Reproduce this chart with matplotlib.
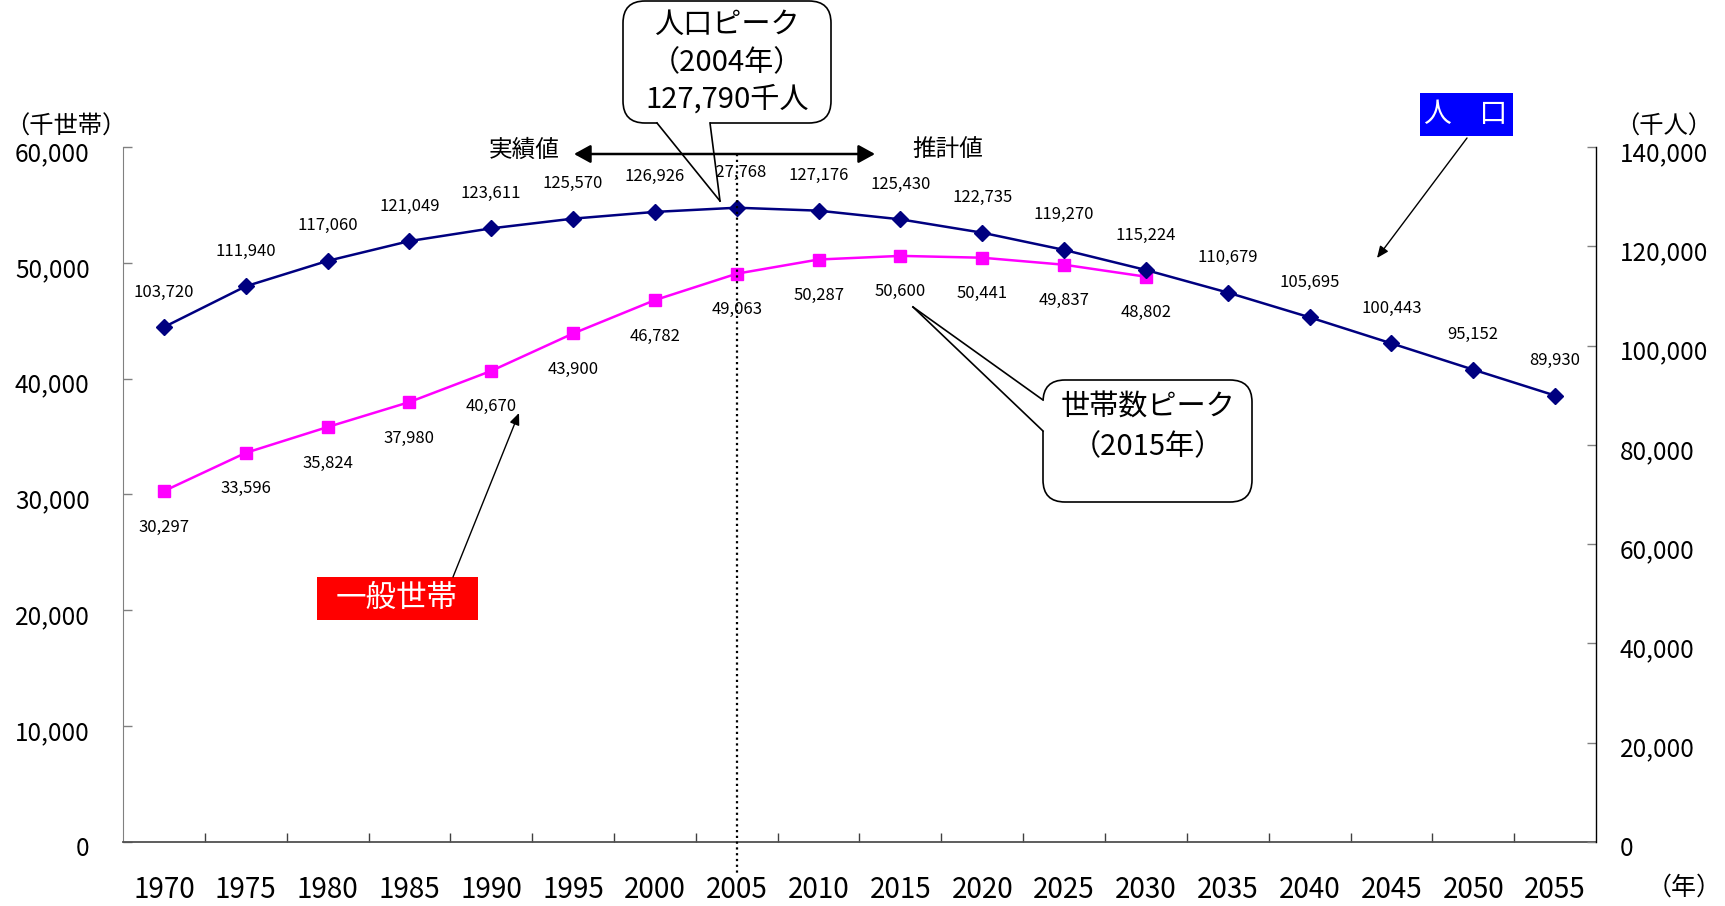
import matplotlib
matplotlib.use("Agg")
import matplotlib.pyplot as plt
from matplotlib.patches import FancyBboxPatch, Polygon, FancyArrowPatch, Rectangle
from matplotlib.lines import Line2D
from matplotlib.transforms import Affine2D, ScaledTranslation, blended_transform_factory
from matplotlib.ticker import FuncFormatter

plt.rcParams['font.family'] = ['Noto Sans CJK JP', 'DejaVu Sans']

# ---- data -------------------------------------------------------------
years = [1970, 1975, 1980, 1985, 1990, 1995, 2000, 2005, 2010,
         2015, 2020, 2025, 2030, 2035, 2040, 2045, 2050, 2055]
population = [103720, 111940, 117060, 121049, 123611, 125570, 126926, 127768,
              127176, 125430, 122735, 119270, 115224, 110679, 105695, 100443,
              95152, 89930]                       # 千人
household_years = years[:13]
households = [30297, 33596, 35824, 37980, 40670, 43900, 46782, 49063,
              50287, 50600, 50441, 49837, 48802]  # 千世帯
peak_year = 2005

left_ticks = list(range(0, 60001, 10000))
right_ticks = list(range(0, 140001, 20000))

NAVY = '#000080'
MAGENTA = '#FF00FF'

# ---- figure -----------------------------------------------------------
W, H = 1725, 906
fig = plt.figure(figsize=(W / 100, H / 100), dpi=100)
fig.patch.set_facecolor('white')

# pixel transform with the origin at the top-left corner
px = Affine2D().scale(1 / W, -1 / H).translate(0, 1) + fig.transFigure

L, R, T, B = 123, 1596, 147, 842
ax = fig.add_axes([L / W, 1 - B / H, (R - L) / W, (B - T) / H])
ax2 = ax.twinx()

idx = list(range(len(years)))
hidx = [years.index(y) for y in household_years]

ax.plot(hidx, households, color=MAGENTA, lw=1.8, marker='s', ms=9,
        mec=MAGENTA, mfc=MAGENTA, clip_on=False, zorder=3)
ax2.plot(idx, population, color=NAVY, lw=1.8, marker='D', ms=8.5,
         mec=NAVY, mfc=NAVY, clip_on=False, zorder=3)

for i, v in zip(idx, population):
    ax2.annotate(f"{v:,}", (i, v), xytext=(0, 35), textcoords='offset pixels',
                 ha='center', va='center', fontsize=12, color='black')
for i, v in zip(hidx, households):
    ax.annotate(f"{v:,}", (i, v), xytext=(0, -36), textcoords='offset pixels',
                ha='center', va='center', fontsize=12, color='black')

# ---- axes -------------------------------------------------------------
fmt = FuncFormatter(lambda v, p: f"{int(v):,}")
ax.set_xlim(-0.5, len(years) - 0.5)
ax.set_ylim(0, 60000)
ax2.set_ylim(0, 140000)

ax.set_xticks(idx)
ax.set_xticklabels([str(y) for y in years])
ax.set_xticks([k - 0.5 for k in range(1, len(years))], minor=True)
ax.tick_params(axis='x', which='major', length=0, pad=24, labelsize=20)
ax.tick_params(axis='x', which='minor', direction='in', length=6.5,
               width=1, color='#404040')

ax.set_yticks(left_ticks)
ax.yaxis.set_major_formatter(fmt)
ax.tick_params(axis='y', direction='in', length=6.5, width=1,
               color='#808080', pad=24, labelsize=17.5)
ax2.set_yticks(right_ticks)
ax2.yaxis.set_major_formatter(fmt)
ax2.tick_params(axis='y', direction='in', length=6.5, width=1,
                color='#808080', pad=17, labelsize=17.5)

# value labels sit a few pixels below their tick
shift = ScaledTranslation(0, -4 / 100, fig.dpi_scale_trans)
for lab in ax.get_yticklabels() + ax2.get_yticklabels():
    lab.set_transform(lab.get_transform() + shift)

for s in ('top', 'right'):
    ax.spines[s].set_visible(False)
ax.spines['left'].set_color('#808080')
ax.spines['bottom'].set_color('#505050')
ax.spines['bottom'].set_linewidth(1.3)
for s in ('top', 'left', 'bottom'):
    ax2.spines[s].set_visible(False)
ax2.spines['right'].set_color('black')
ax2.spines['right'].set_linewidth(1.0)

# unit labels
fig.text(66 / W, 1 - 127 / H, '（千世帯）', ha='center', va='center', fontsize=17.5)
fig.text(1664 / W, 1 - 127 / H, '（千人）', ha='center', va='center', fontsize=17.5)
fig.text(1684 / W, 1 - 888 / H, '（年）', ha='center', va='center', fontsize=18)


# ---- callouts ---------------------------------------------------------
def callout(x0, y0, x1, y1, base_a, base_b, tip, lines, line_ys, size):
    box = FancyBboxPatch((x0, y0), x1 - x0, y1 - y0,
                         boxstyle='round,pad=0,rounding_size=22',
                         transform=px, facecolor='white', edgecolor='black',
                         lw=1.2, zorder=5)
    fig.patches.append(box)
    # white wedge hides the border where the pointer attaches
    ax_, ay_ = base_a
    bx_, by_ = base_b
    if ay_ == by_:        # pointer leaves the bottom edge
        inner = [(ax_ + 1, ay_ - 4), (bx_ - 1, by_ - 4)]
    else:                 # pointer leaves the left edge
        inner = [(ax_ + 4, ay_ + 1), (bx_ + 4, by_ - 1)]
    wedge = Polygon([inner[0], (ax_ + 0.5 * (ax_ != bx_), ay_ + 0.5 * (ay_ != by_)),
                     tip, base_b, inner[1]],
                    closed=True, transform=px, facecolor='white',
                    edgecolor='none', zorder=6)
    fig.patches.append(wedge)
    for p in (base_a, base_b):
        fig.lines.append(Line2D([p[0], tip[0]], [p[1], tip[1]], transform=px,
                                color='black', lw=1.2, zorder=7))
    cx = (x0 + x1) / 2
    for txt, y in zip(lines, line_ys):
        fig.text(cx / W, 1 - y / H, txt, ha='center', va='center',
                 fontsize=size, zorder=8)


callout(623, 1, 831, 123, (657, 123), (710, 123), (720, 201),
        ['人口ピーク', '（2004年）', '127,790千人'], [25, 63, 100], 21)
callout(1043, 380, 1252, 502, (1043, 400), (1043, 431), (913, 307),
        ['世帯数ピーク', '（2015年）'], [408, 447], 21)

# ---- actual / projected divider --------------------------------------
dot_tf = blended_transform_factory(ax.transData, fig.transFigure)
pk = years.index(peak_year)
fig.lines.append(Line2D([pk, pk], [1 - 154 / H, 1 - 875 / H], transform=dot_tf,
                        color='black', lw=1.6, ls=(0, (1, 1.6)), zorder=9))

arr = FancyArrowPatch((574, 154), (875, 154), transform=px,
                      arrowstyle='<|-|>,head_length=10,head_width=5.5',
                      mutation_scale=1, shrinkA=0, shrinkB=0,
                      color='black', lw=1.8, zorder=9)
fig.patches.append(arr)
fig.text(524 / W, 1 - 150 / H, '実績値', ha='center', va='center', fontsize=17)
fig.text(948 / W, 1 - 150 / H, '推計値', ha='center', va='center', fontsize=17)

# ---- series tags -----------------------------------------------------
fig.patches.append(Rectangle((1420, 93), 93, 43, transform=px,
                             facecolor='#0000FF', edgecolor='none', zorder=5))
fig.text(1466 / W, 1 - 114 / H, '人　口', ha='center', va='center',
         fontsize=20, color='white', zorder=6)
fig.patches.append(FancyArrowPatch((1467, 138), (1377, 258), transform=px,
                                   arrowstyle='-|>,head_length=7,head_width=3',
                                   mutation_scale=1, shrinkA=0, shrinkB=0,
                                   color='black', lw=1.0, zorder=9))

fig.patches.append(Rectangle((317, 577), 161, 43, transform=px,
                             facecolor='#FF0000', edgecolor='none', zorder=5))
fig.text(397 / W, 1 - 598 / H, '一般世帯', ha='center', va='center',
         fontsize=22, color='white', zorder=6)
fig.patches.append(FancyArrowPatch((453, 577), (519, 413), transform=px,
                                   arrowstyle='-|>,head_length=7,head_width=3',
                                   mutation_scale=1, shrinkA=0, shrinkB=0,
                                   color='black', lw=1.0, zorder=9))

fig.savefig('out.png', dpi=100, facecolor='white')
